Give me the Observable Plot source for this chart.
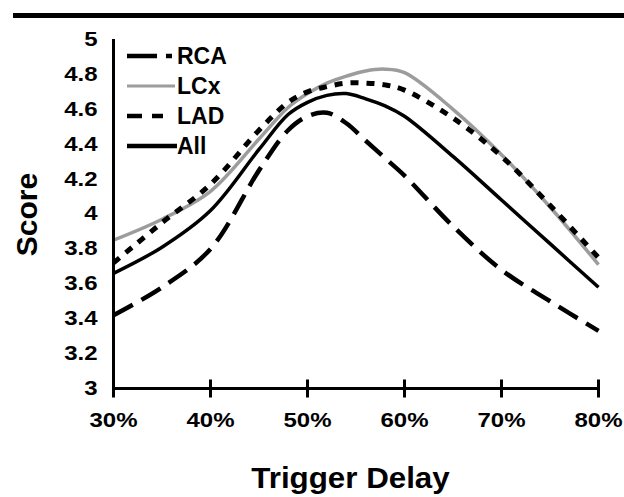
<!DOCTYPE html>
<html><head><meta charset="utf-8">
<script src="https://cdn.jsdelivr.net/npm/d3@7"></script>
<script src="https://cdn.jsdelivr.net/npm/@observablehq/plot@0.6"></script>
<style>html,body{margin:0;padding:0;background:#fff;}</style>
</head><body><div id="chart"></div>
<script>
// ---- data ----
const delay = [30, 35, 40, 45, 48, 50, 52, 54, 56, 58, 60, 65, 70, 75, 80];
const rca   = [3.42, 3.58, 3.80, 4.25, 4.48, 4.56, 4.58, 4.52, 4.42, 4.32, 4.22, 3.93, 3.68, 3.50, 3.33];
const lcx   = [3.85, 3.97, 4.13, 4.43, 4.61, 4.69, 4.75, 4.79, 4.82, 4.83, 4.81, 4.60, 4.34, 4.04, 3.71];
const lad   = [3.72, 3.95, 4.17, 4.48, 4.64, 4.70, 4.73, 4.75, 4.75, 4.74, 4.71, 4.55, 4.33, 4.05, 3.75];
const all   = [3.66, 3.81, 4.02, 4.37, 4.57, 4.64, 4.68, 4.69, 4.66, 4.62, 4.56, 4.33, 4.08, 3.83, 3.58];
const seriesNames = ["RCA", "LCx", "LAD", "All"];
const xTicks = [30, 40, 50, 60, 70, 80];
const yTicks = [3, 3.2, 3.4, 3.6, 3.8, 4, 4.2, 4.4, 4.6, 4.8, 5];
const xTitle = "Trigger Delay";
const yTitle = "Score";

const values = {RCA: rca, LCx: lcx, LAD: lad, All: all};
const styles = {
  RCA: {stroke: "#000", strokeWidth: 4.5, dash: "22,10"},
  LCx: {stroke: "#9c9c9c", strokeWidth: 3.5, dash: null},
  LAD: {stroke: "#000", strokeWidth: 5, dash: "8,8"},
  All: {stroke: "#000", strokeWidth: 3.5, dash: null}
};
const rows = seriesNames.flatMap(s => delay.map((x, i) => ({s, x, y: values[s][i]})));

const FONT = "'Liberation Sans', Arial, Helvetica, sans-serif";
const tickSym = {draw(ctx, size) { const r = Math.sqrt(size / Math.PI); ctx.moveTo(0, -r); ctx.lineTo(0, r); }};

const drawOrder = ["LCx", "All", "LAD", "RCA"];
const lineMarks = drawOrder.map(s => Plot.line(rows.filter(d => d.s === s), {
  x: "x", y: "y", stroke: styles[s].stroke, strokeWidth: styles[s].strokeWidth,
  strokeDasharray: styles[s].dash, curve: "catmull-rom", strokeLinecap: "butt"
}));

const plot = Plot.plot({
  width: 624, height: 497,
  marginTop: 39, marginBottom: 109, marginLeft: 113, marginRight: 26,
  style: {fontFamily: FONT, fontWeight: "bold", background: "#fff", color: "#000"},
  x: {domain: [30, 80]},
  y: {domain: [3, 5]},
  marks: [
    ...lineMarks,
    Plot.axisX(xTicks, {tickSize: 0, tickPadding: 24, tickFormat: d => d + "%", fontSize: 20, label: null}),
    Plot.axisY(yTicks, {tickSize: 0, tickPadding: 16, tickFormat: d => String(+d.toFixed(1)), fontSize: 20, label: null}),
    Plot.ruleX([30], {y1: 3, y2: 5, strokeWidth: 3, stroke: "#000"}),
    Plot.ruleY([3], {x1: 30, x2: 80, strokeWidth: 3, stroke: "#000"}),
    Plot.dot(xTicks, {x: d => d, y: () => 3, symbol: tickSym, r: 9, stroke: "#000", strokeWidth: 3})
  ]
});

document.getElementById("chart").appendChild(plot);
const svg = d3.select(plot);

// widen tick labels (reference glyphs are horizontally stretched)
svg.selectAll('g[aria-label="x-axis tick label"] text, g[aria-label="y-axis tick label"] text').each(function() {
  const t = this.getAttribute("transform");
  if (t && t.includes("translate")) this.setAttribute("transform", t + " scale(1.2,1)");
});

const xs = plot.scale("x"), ys = plot.scale("y");
const left = xs.range[0], right = xs.range[1];
const bottom = ys.range[0];

// top rule bar
svg.append("rect").attr("x", 13).attr("y", 13).attr("width", 624 - 13).attr("height", 5).attr("fill", "#000");

// axis titles
const cx = (left + right) / 2 - 5, cy = bottom + 100;
svg.append("text")
  .attr("transform", `translate(${cx},${cy}) scale(1.08,1)`)
  .attr("text-anchor", "middle").attr("font-size", 29).attr("font-weight", "bold")
  .attr("font-family", FONT).attr("fill", "#000").text(xTitle);
svg.append("text").attr("transform", `translate(37,${(ys.range[0] + ys.range[1]) / 2 + 1}) rotate(-90)`)
  .attr("text-anchor", "middle").attr("font-size", 30).attr("font-weight", "bold")
  .attr("font-family", FONT).attr("fill", "#000").text(yTitle);

// legend
const legendDash = {RCA: "30,9,6,100", LCx: null, LAD: "15,10", All: null};
const legendEnd = {RCA: 172, LCx: 175, LAD: 163, All: 177};
const lg = svg.append("g");
seriesNames.forEach((s, i) => {
  const y = 56 + i * 30;
  lg.append("line").attr("x1", left + 14).attr("x2", legendEnd[s]).attr("y1", y).attr("y2", y)
    .attr("stroke", styles[s].stroke).attr("stroke-width", s === "LCx" ? 3 : 4.5)
    .attr("stroke-dasharray", legendDash[s]);
  lg.append("text").attr("x", 177).attr("y", y + 8).attr("text-anchor", "start")
    .attr("font-size", 23).attr("font-weight", "bold")
    .attr("font-family", FONT).attr("fill", "#000").text(s);
});
</script>
</body></html>
